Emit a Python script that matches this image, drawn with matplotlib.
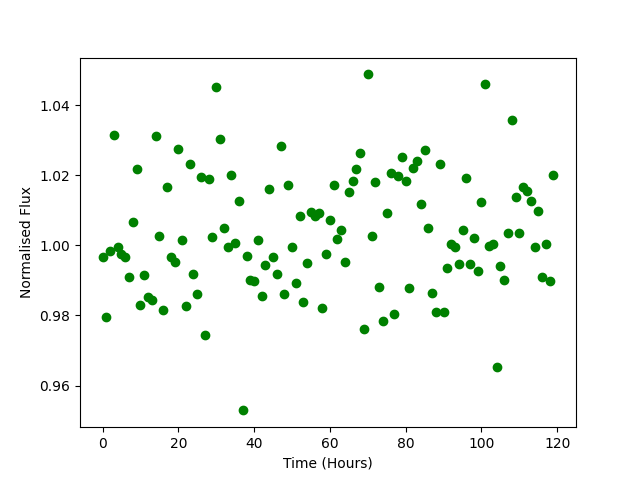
import numpy as np
import matplotlib
matplotlib.use('Agg')
import matplotlib.pyplot as plt

# hourly samples, 0..119
time_hours = np.arange(120)

flux = [
    0.9966, 0.9796, 0.9985, 1.0316, 0.9994, 0.9974, 0.9966, 0.9911, 1.0068, 1.0219,
    0.9831, 0.9916, 0.9854, 0.9845, 1.0313, 1.0028, 0.9816, 1.0168, 0.9966, 0.9953,
    1.0276, 1.0016, 0.9828, 1.0231, 0.9919, 0.9860, 1.0194, 0.9745, 1.0190, 1.0025,
    1.0453, 1.0305, 1.0051, 0.9996, 1.0200, 1.0008, 1.0128, 0.9529, 0.9969, 0.9902,
    0.9899, 1.0016, 0.9856, 0.9945, 1.0162, 0.9968, 0.9919, 1.0285, 0.9860, 1.0171,
    0.9996, 0.9893, 1.0085, 0.9839, 0.9951, 1.0095, 1.0085, 1.0093, 0.9822, 0.9976,
    1.0073, 1.0171, 1.0019, 1.0045, 0.9953, 1.0151, 1.0185, 1.0219, 1.0265, 0.9762,
    1.0488, 1.0028, 1.0182, 0.9882, 0.9785, 1.0093, 1.0208, 0.9805, 1.0199, 1.0253,
    1.0185, 0.9879, 1.0222, 1.0242, 1.0119, 1.0273, 1.0051, 0.9865, 0.9811, 1.0233,
    0.9811, 0.9936, 1.0005, 0.9996, 0.9948, 1.0045, 1.0193, 0.9948, 1.0022, 0.9928,
    1.0125, 1.0462, 0.9999, 1.0005, 0.9653, 0.9942, 0.9902, 1.0036, 1.0357, 1.0139,
    1.0036, 1.0168, 1.0154, 1.0128, 0.9994, 1.0097, 0.9909, 1.0003, 0.9898, 1.0200,
]

fig = plt.figure(figsize=(6.4, 4.8), dpi=100)
plt.plot(time_hours, flux, 'o', color='green')
plt.xlabel('Time (Hours)')
plt.ylabel('Normalised Flux')
fig.savefig('out.png')
